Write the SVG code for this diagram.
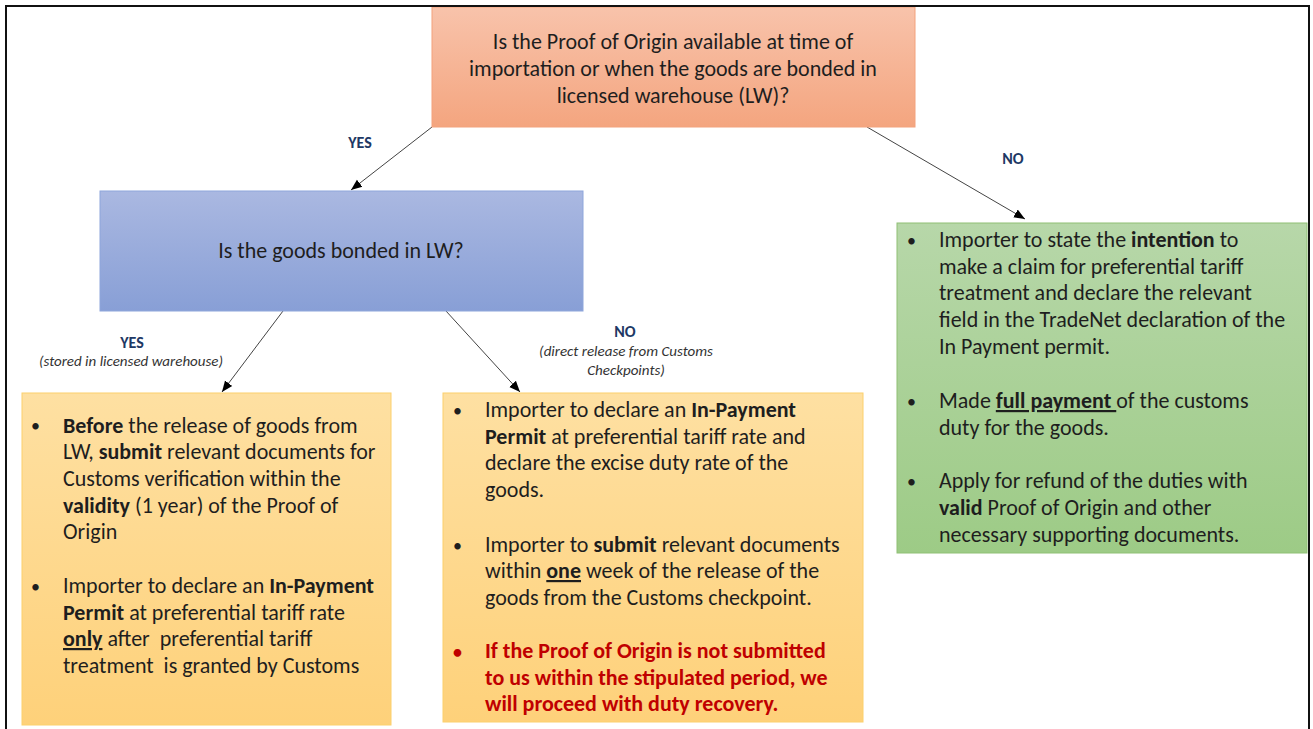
<svg xmlns="http://www.w3.org/2000/svg" width="1313" height="729" viewBox="0 0 1313 729">
<defs>
<linearGradient id="gOrange" x1="0" y1="0" x2="0" y2="1"><stop offset="0" stop-color="#f8c3ab"/><stop offset="1" stop-color="#f4a57f"/></linearGradient>
<linearGradient id="gBlue" x1="0" y1="0" x2="0" y2="1"><stop offset="0" stop-color="#aab8e1"/><stop offset="1" stop-color="#889fd6"/></linearGradient>
<linearGradient id="gYellow" x1="0" y1="0" x2="0" y2="1"><stop offset="0" stop-color="#fee0a2"/><stop offset="1" stop-color="#fed17a"/></linearGradient>
<linearGradient id="gGreen" x1="0" y1="0" x2="0" y2="1"><stop offset="0" stop-color="#b7d7a9"/><stop offset="1" stop-color="#9dcb86"/></linearGradient>
<marker id="arr" markerUnits="userSpaceOnUse" markerWidth="12" markerHeight="12" viewBox="0 0 12 12" refX="11" refY="6" orient="auto"><path d="M0,1.5 L11,6 L0,10.5 z" fill="#000"/></marker>
</defs>
<style>
text{font-family:Carlito,Lato,"Liberation Sans",sans-serif;fill:#1e1e1e;white-space:pre}
.q{font-size:22px;text-anchor:middle}
.b{font-size:22px}
.dot{font-size:18px}
.bold{font-weight:bold}
.u{text-decoration:underline}
.red{fill:#c00000;font-weight:bold}
.lbl{font-size:16px;font-weight:bold;fill:#203864;text-anchor:middle}
.sub{font-size:15px;font-style:italic;fill:#333;text-anchor:middle}
.conn{stroke:#444;stroke-width:1;fill:none;marker-end:url(#arr)}
</style>
<rect x="0" y="0" width="1313" height="729" fill="#fff"/>

<g id="connectors">
<line class="conn" x1="432" y1="127" x2="351" y2="190"/>
<line class="conn" x1="867" y1="127" x2="1025" y2="219"/>
<line class="conn" x1="283" y1="311" x2="222" y2="392"/>
<line class="conn" x1="446" y1="311" x2="520" y2="392"/>
</g>

<g id="labels">
<text class="lbl" x="360" y="148">YES</text>
<text class="lbl" x="1013" y="164">NO</text>
<text class="lbl" x="132" y="348">YES</text>
<text class="sub" x="131" y="366">(stored in licensed warehouse)</text>
<text class="lbl" x="625" y="337">NO</text>
<text class="sub" x="626" y="356">(direct release from Customs</text>
<text class="sub" x="626" y="375">Checkpoints)</text>
</g>

<g id="node-origin">
<rect x="432" y="7" width="483" height="120" fill="url(#gOrange)" stroke="#f3a27c" stroke-width="1"/>
<text class="q" x="673" y="49">Is the Proof of Origin available at time of</text>
<text class="q" x="673" y="76">importation or when the goods are bonded in</text>
<text class="q" x="673" y="103">licensed warehouse (LW)?</text>
</g>

<g id="node-bonded">
<rect x="100" y="191" width="483" height="120" fill="url(#gBlue)" stroke="#8ea6db" stroke-width="1"/>
<text class="q" x="341" y="258">Is the goods bonded in LW?</text>
</g>

<g id="node-lw">
<rect x="22" y="393" width="369" height="332" fill="url(#gYellow)" stroke="#fcd06c" stroke-width="1"/>
<text class="dot" x="31" y="432">•</text>
<text class="b" x="63" y="433"><tspan class="bold">Before</tspan> the release of goods from</text>
<text class="b" x="63" y="459">LW, <tspan class="bold">submit</tspan> relevant documents for</text>
<text class="b" x="63" y="486">Customs verification within the</text>
<text class="b" x="63" y="513"><tspan class="bold">validity</tspan> (1 year) of the Proof of</text>
<text class="b" x="63" y="539">Origin</text>
<text class="dot" x="31" y="593">•</text>
<text class="b" x="63" y="593">Importer to declare an <tspan class="bold">In-Payment</tspan></text>
<text class="b" x="63" y="620"><tspan class="bold">Permit</tspan> at preferential tariff rate</text>
<text class="b" x="63" y="646"><tspan class="bold u">only</tspan> after  preferential tariff</text>
<text class="b" x="63" y="673">treatment  is granted by Customs</text>
</g>

<g id="node-direct">
<rect x="443" y="393" width="420" height="329" fill="url(#gYellow)" stroke="#fcd06c" stroke-width="1"/>
<text class="dot" x="453" y="417">•</text>
<text class="b" x="485" y="417">Importer to declare an <tspan class="bold">In-Payment</tspan></text>
<text class="b" x="485" y="444"><tspan class="bold">Permit</tspan> at preferential tariff rate and</text>
<text class="b" x="485" y="470">declare the excise duty rate of the</text>
<text class="b" x="485" y="497">goods.</text>
<text class="dot" x="453" y="552">•</text>
<text class="b" x="485" y="552">Importer to <tspan class="bold">submit</tspan> relevant documents</text>
<text class="b" x="485" y="578">within <tspan class="bold u">one</tspan> week of the release of the</text>
<text class="b" x="485" y="605">goods from the Customs checkpoint.</text>
<text class="dot red" x="453" y="658">•</text>
<text class="b red" x="485" y="658">If the Proof of Origin is not submitted</text>
<text class="b red" x="485" y="685">to us within the stipulated period, we</text>
<text class="b red" x="485" y="711">will proceed with duty recovery.</text>
</g>

<g id="node-no">
<rect x="897" y="223" width="410" height="330" fill="url(#gGreen)" stroke="#8fc074" stroke-width="1"/>
<text class="dot" x="907" y="247">•</text>
<text class="b" x="939" y="247">Importer to state the <tspan class="bold">intention</tspan> to</text>
<text class="b" x="939" y="274">make a claim for preferential tariff</text>
<text class="b" x="939" y="300">treatment and declare the relevant</text>
<text class="b" x="939" y="327">field in the TradeNet declaration of the</text>
<text class="b" x="939" y="354">In Payment permit.</text>
<text class="dot" x="907" y="408">•</text>
<text class="b" x="939" y="408">Made <tspan class="bold u">full payment </tspan>of the customs</text>
<text class="b" x="939" y="435">duty for the goods.</text>
<text class="dot" x="907" y="488">•</text>
<text class="b" x="939" y="488">Apply for refund of the duties with</text>
<text class="b" x="939" y="515"><tspan class="bold">valid</tspan> Proof of Origin and other</text>
<text class="b" x="939" y="542">necessary supporting documents.</text>
</g>

<rect id="frame" x="6" y="6" width="1303" height="760" fill="none" stroke="#111" stroke-width="2"/>
</svg>
